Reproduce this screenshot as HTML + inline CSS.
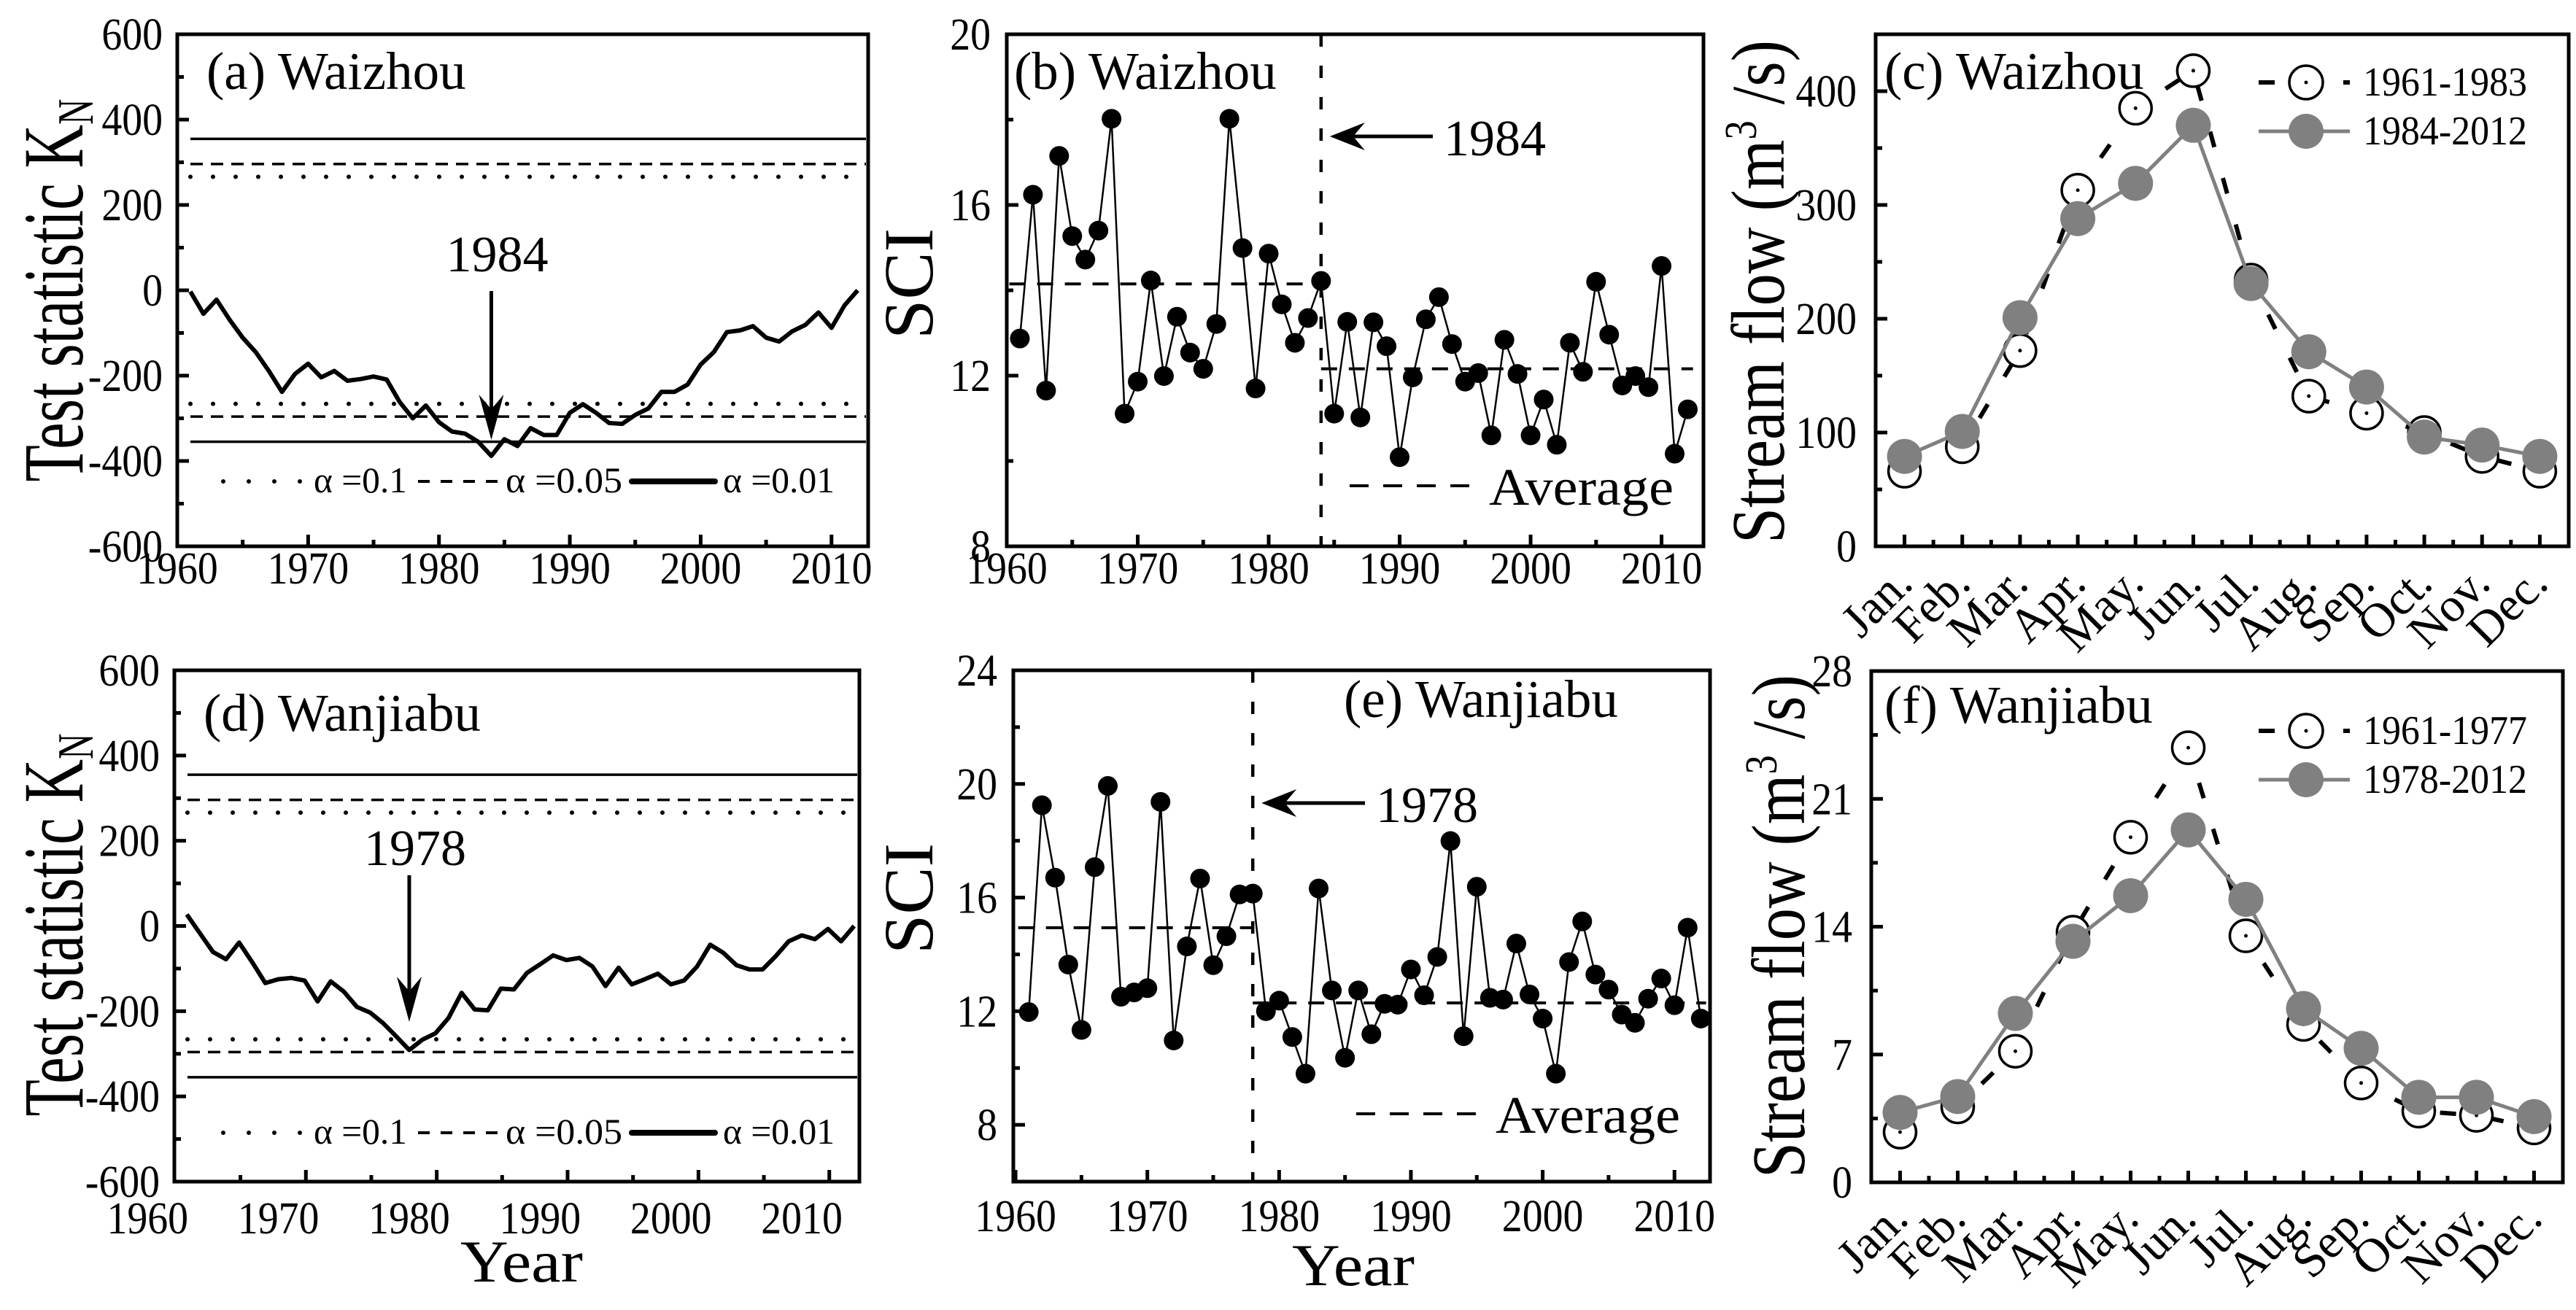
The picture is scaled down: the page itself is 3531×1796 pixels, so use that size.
<!DOCTYPE html>
<html><head><meta charset="utf-8">
<style>
html,body{margin:0;padding:0;background:#fff;}
svg{display:block;}
text{font-family:"Liberation Serif",serif;fill:#000;}
</style></head>
<body>
<svg id="fig" xmlns="http://www.w3.org/2000/svg" width="3531" height="1796" viewBox="0 0 3531 1796">
<rect width="3531" height="1796" fill="#fff"/>
<g id="root"></g>
</svg>
<script>
// ---------- data ----------
const yearsA = Array.from({length:52},(_,i)=>1961+i);
const kA = [-3,-55,-22,-69,-111,-145,-189,-238,-196,-172,-204,-189,-212,-208,-202,-209,-262,-300,-270,-309,-331,-336,-355,-388,-349,-365,-323,-339,-339,-287,-267,-287,-311,-313,-292,-277,-238,-238,-221,-174,-145,-98,-94,-84,-111,-120,-96,-81,-52,-88,-35,0];
const yearsD = Array.from({length:52},(_,i)=>1963+i);
const kD = [27,-17,-61,-78,-39,-85,-134,-125,-122,-128,-177,-130,-154,-190,-203,-228,-259,-291,-267,-252,-216,-157,-196,-198,-147,-149,-110,-90,-69,-80,-75,-95,-141,-98,-137,-125,-112,-137,-128,-95,-44,-63,-92,-102,-102,-71,-36,-22,-31,-7,-36,0];
const critVals = [355,296,266];
const yearsB = Array.from({length:52},(_,i)=>1961+i);
const sciB = [12.87,16.24,11.65,17.15,15.27,14.72,15.40,18.02,11.11,11.86,14.23,11.99,13.38,12.54,12.16,13.21,18.02,14.99,11.70,14.86,13.67,12.77,13.35,14.22,11.11,13.26,11.02,13.25,12.69,10.09,11.96,13.32,13.84,12.74,11.86,12.06,10.60,12.84,12.04,10.60,11.44,10.38,12.77,12.09,14.20,12.96,11.77,11.99,11.73,14.57,10.17,11.21];
const avgB = [14.15,12.16];
const yearsE = Array.from({length:52},(_,i)=>1961+i);
const sciE = [11.97,19.25,16.70,13.64,11.34,17.07,19.93,12.51,12.66,12.81,19.37,10.97,14.28,16.67,13.62,14.64,16.11,16.14,12.0,12.37,11.09,9.80,16.32,12.73,10.36,12.73,11.19,12.26,12.23,13.47,12.56,13.91,17.99,11.12,16.38,12.47,12.41,14.38,12.59,11.74,9.80,13.73,15.16,13.29,12.76,11.88,11.59,12.44,13.15,12.21,14.94,11.74];
const avgE = [14.94,12.29];
const months = ['Jan.','Feb.','Mar.','Apr.','May.','Jun.','Jul.','Aug.','Sep.','Oct.','Nov.','Dec.'];
const flowC1 = [66,87.5,172,313,385,418,234,132,117,100,79,66];
const flowC2 = [79,101,201,288,319,370,231,171,140,96,89,79];
const flowF1 = [2.75,4.13,7.18,13.7,18.9,23.8,13.5,8.65,5.44,3.9,3.67,2.98];
const flowF2 = [3.83,4.7,9.25,13.2,15.7,19.3,15.5,9.52,7.34,4.66,4.66,3.6];
const kTicks = [-600,-400,-200,0,200,400,600];
const yearTicks = [1960,1970,1980,1990,2000,2010];

// ---------- helpers ----------
const NS='http://www.w3.org/2000/svg';
const root=document.getElementById('root');
function mk(tag,attrs,parent){const e=document.createElementNS(NS,tag);for(const k in attrs)e.setAttribute(k,attrs[k]);parent.appendChild(e);return e;}
function T(parent,x,y,str,size,anchor,name,extra){
  const t=mk('text',Object.assign({x:x,y:y,'font-size':size,'text-anchor':anchor||'start'},extra||{}),parent);
  t.textContent=str;
  
  
  return t;
}
function TL(parent,x,y,str,anchor,name){
  return T(parent,0,0,str,62,anchor,name,{transform:`translate(${x},${y}) scale(0.9,1)`});
}
function panel(c,name){
  const g=mk('g',{},root);
  
  
  c.g=g;
  c.fx=v=>c.x0+(v-c.xmin)/(c.xmax-c.xmin)*(c.x1-c.x0);
  c.fy=v=>c.y1-(v-c.ymin)/(c.ymax-c.ymin)*(c.y1-c.y0);
  return c;
}
function frame(c){
  const r=mk('rect',{x:c.x0,y:c.y0,width:c.x1-c.x0,height:c.y1-c.y0,fill:'none',stroke:'#000','stroke-width':5},c.g);
  
  
}
function yTicks(c,majors,minors,labelGap){
  majors.forEach(v=>{
    const y=c.fy(v);
    const tk=mk('line',{x1:c.x0,x2:c.x0+16,y1:y,y2:y,stroke:'#000','stroke-width':5},c.g);
    
    
    TL(c.g,c.x0-labelGap,y+21,String(v),'end','y-tick-label');
  });
  minors.forEach(v=>{
    const y=c.fy(v);
    const tk=mk('line',{x1:c.x0,x2:c.x0+9,y1:y,y2:y,stroke:'#000','stroke-width':5},c.g);
    
    
  });
}
function xTicks(c,labels,tickShift,labelY){
  labels.forEach(v=>{
    TL(c.g,c.fx(v),labelY,String(v),'middle','x-tick-label');
    [0,5].forEach(o=>{
      const x=c.fx(v+o+tickShift);
      if(x<c.x0+3||x>c.x1-3)return;
      const tk=mk('line',{x1:x,x2:x,y1:c.y1,y2:c.y1-(o?9:16),stroke:'#000','stroke-width':5},c.g);
      
      
    });
  });
}
function vTitle(c,x,y,size,len,name,parts){
  const t=mk('text',{x:0,y:0,'font-size':size,'text-anchor':'middle',transform:`translate(${x},${y}) rotate(-90)`,textLength:len,lengthAdjust:'spacingAndGlyphs'},c.g);
  
  
  parts.forEach(p=>{const s=mk('tspan',p.a||{},t);s.textContent=p.s;});
  return t;
}

// ---------- K_N panels ----------
function drawKN(c,years,vals,arrowYear,arrowTop,arrowTip,labelTxt,labelY,title,titleY,legendY,xLabelY){
  frame(c);
  yTicks(c,kTicks,[-500,-300,-100,100,300,500],20);
  xTicks(c,yearTicks,c.tickShift,xLabelY);
  const styles=[{w:3.5,d:''},{w:3.5,d:'17 11'},{w:6,d:'0 31',cap:'round'}];
  critVals.forEach((v,i)=>{
    [v,-v].forEach(val=>{
      const ln=mk('line',{x1:c.x0+18,x2:c.x1-3,y1:c.fy(val),y2:c.fy(val),stroke:'#000','stroke-width':styles[i].w,'stroke-dasharray':styles[i].d,'stroke-linecap':styles[i].cap||'butt'},c.g);
      
      
    });
  });
  const pts=years.map((y,i)=>c.fx(y)+','+c.fy(vals[i])).join(' ');
  const pl=mk('polyline',{points:pts,fill:'none',stroke:'#000','stroke-width':6,'stroke-linejoin':'round'},c.g);
  
  
  const ax=c.fx(arrowYear);
  const ar=mk('line',{x1:ax,x2:ax,y1:arrowTop,y2:arrowTip-30,stroke:'#000','stroke-width':5},c.g);
  
  
  const ah=mk('path',{d:`M${ax},${arrowTip} L${ax-17},${arrowTip-62} L${ax},${arrowTip-42} L${ax+17},${arrowTip-62} Z`,fill:'#000'},c.g);
  
  
  T(c.g,ax+8,labelY,labelTxt,70,'middle','change-year-label');
  T(c.g,c.x0+40,titleY,title,73,'start','panel-title');
  const lg=mk('g',{},c.g);
  
  
  const ly=legendY;
  let l1=mk('line',{x1:306,x2:412,y1:ly,y2:ly,stroke:'#000','stroke-width':6,'stroke-dasharray':'0 35','stroke-linecap':'round'},lg);
  
  
  T(lg,430,ly+15,'α =0.1',50,'start','legend-label-0.1',{textLength:128,lengthAdjust:'spacingAndGlyphs'});
  let l2=mk('line',{x1:573,x2:682,y1:ly,y2:ly,stroke:'#000','stroke-width':4,'stroke-dasharray':'16 15'},lg);
  
  
  T(lg,693,ly+15,'α =0.05',50,'start','legend-label-0.05',{textLength:160,lengthAdjust:'spacingAndGlyphs'});
  let l3=mk('line',{x1:866,x2:980,y1:ly,y2:ly,stroke:'#000','stroke-width':8,'stroke-linecap':'round'},lg);
  
  
  T(lg,991,ly+15,'α =0.01',50,'start','legend-label-0.01',{textLength:153,lengthAdjust:'spacingAndGlyphs'});
}
const A=panel({x0:243,x1:1190,y0:47,y1:749,xmin:1960,xmax:2012.8,ymin:-600,ymax:600,tickShift:0},'panel-a-waizhou-kn');
drawKN(A,yearsA,kA,1984,399,603,'1984',372,'(a) Waizhou',122,660,800);
vTitle(A,113,398,118,525,'y-axis-title',[{s:'Test statistic K'},{s:'N',a:{'font-size':70,dy:14}}]);
const D=panel({x0:239,x1:1178,y0:919,y1:1620,xmin:1962.05,xmax:2014.4,ymin:-600,ymax:600,tickShift:2.1},'panel-d-wanjiabu-kn');
drawKN(D,yearsD,kD,1980,1200,1401,'1978',1186,'(d) Wanjiabu',1002,1553,1691);
vTitle(D,113,1268,118,525,'y-axis-title',[{s:'Test statistic K'},{s:'N',a:{'font-size':70,dy:14}}]);
T(D.g,715,1757,'Year',82,'middle','x-axis-title',{textLength:168,lengthAdjust:'spacingAndGlyphs'});

// ---------- SCI panels ----------
function drawSCI(c,years,vals,avg,changeYear,majors,minors,xLabelY,arrowY,arrowTail,title,titleX,titleY,avgLegY){
  frame(c);
  yTicks(c,majors,minors,22);
  xTicks(c,yearTicks,0,xLabelY);
  const cx=c.fx(changeYear);
  const vl=mk('line',{x1:cx,x2:cx,y1:c.y0,y2:c.y1,stroke:'#000','stroke-width':4.5,'stroke-dasharray':'17 26'},c.g);
  
  
  const a1=mk('line',{x1:c.fx(years[0]-0.8),x2:cx,y1:c.fy(avg[0]),y2:c.fy(avg[0]),stroke:'#000','stroke-width':4,'stroke-dasharray':'22 16'},c.g);
  
  
  const a2=mk('line',{x1:cx,x2:c.fx(years[years.length-1]+0.4),y1:c.fy(avg[1]),y2:c.fy(avg[1]),stroke:'#000','stroke-width':4,'stroke-dasharray':'22 16'},c.g);
  
  
  const pts=years.map((y,i)=>c.fx(y)+','+c.fy(vals[i])).join(' ');
  const pl=mk('polyline',{points:pts,fill:'none',stroke:'#000','stroke-width':2.5},c.g);
  
  
  years.forEach((y,i)=>{
    const m=mk('circle',{cx:c.fx(y),cy:c.fy(vals[i]),r:13.5,fill:'#000'},c.g);
    
    
  });
  const ar=mk('line',{x1:arrowTail,x2:cx+40,y1:arrowY,y2:arrowY,stroke:'#000','stroke-width':5},c.g);
  
  
  const tip=cx+12;
  const ah=mk('path',{d:`M${tip},${arrowY} L${tip+48},${arrowY-19} L${tip+32},${arrowY} L${tip+48},${arrowY+19} Z`,fill:'#000'},c.g);
  
  
  T(c.g,arrowTail+15,arrowY+26,String(changeYear),70,'start','change-year-label');
  T(c.g,titleX,titleY,title,73,'start','panel-title');
  const ld=mk('line',{x1:c.x1-485,x2:c.x1-318,y1:avgLegY,y2:avgLegY,stroke:'#000','stroke-width':4,'stroke-dasharray':'26 20'},c.g);
  
  
  T(c.g,c.x1-294,avgLegY+26,'Average',72,'start','average-legend-label',{textLength:253,lengthAdjust:'spacingAndGlyphs'});
}
const B=panel({x0:1380,x1:2335,y0:47,y1:749,xmin:1960,xmax:2013.2,ymin:8,ymax:20},'panel-b-waizhou-sci');
drawSCI(B,yearsB,sciB,avgB,1984,[8,12,16,20],[10,14,18],800,187,1964,'(b) Waizhou',1390,122,666);
vTitle(B,1278,389,96,152,'y-axis-title',[{s:'SCI'}]);
const E=panel({x0:1389,x1:2344,y0:919,y1:1620,xmin:1959.83,xmax:2012.7,ymin:6,ymax:24},'panel-e-wanjiabu-sci');
drawSCI(E,yearsE,sciE,avgE,1978,[8,12,16,20,24],[10,14,18,22],1688,1101,1871,'(e) Wanjiabu',1842,983,1527);
vTitle(E,1278,1232,96,152,'y-axis-title',[{s:'SCI'}]);
T(E.g,1855,1762,'Year',82,'middle','x-axis-title',{textLength:168,lengthAdjust:'spacingAndGlyphs'});

// ---------- Streamflow panels ----------
function drawFlow(c,v1,v2,majors,minors,labY,title,titleY,leg1,leg2,legY){
  frame(c);
  yTicks(c,majors,minors,26);
  months.forEach((m,i)=>{
    const x=c.fx(i+1);
    const tk=mk('line',{x1:x,x2:x,y1:c.y1,y2:c.y1-16,stroke:'#000','stroke-width':5},c.g);
    
    
    if(i<11){
      const mx=c.fx(i+1.5);
      const mt=mk('line',{x1:mx,x2:mx,y1:c.y1,y2:c.y1-9,stroke:'#000','stroke-width':5},c.g);
      
      
    }
    T(c.g,0,0,m,66,'end','month-label',{transform:`translate(${x+14},${labY}) rotate(-45)`});
  });
  const p1=v1.map((v,i)=>c.fx(i+1)+','+c.fy(v)).join(' ');
  const l1=mk('polyline',{points:p1,fill:'none',stroke:'#000','stroke-width':6,'stroke-dasharray':'22 44'},c.g);
  
  
  v1.forEach((v,i)=>{
    const o=mk('circle',{cx:c.fx(i+1),cy:c.fy(v),r:22,fill:'#fff',stroke:'#000','stroke-width':3.5},c.g);
    
    
    const d=mk('circle',{cx:c.fx(i+1),cy:c.fy(v),r:2.5,fill:'#000'},c.g);
    
    
  });
  const p2=v2.map((v,i)=>c.fx(i+1)+','+c.fy(v)).join(' ');
  const l2=mk('polyline',{points:p2,fill:'none',stroke:'#808080','stroke-width':5},c.g);
  
  
  v2.forEach((v,i)=>{
    const o=mk('circle',{cx:c.fx(i+1),cy:c.fy(v),r:24,fill:'#808080'},c.g);
    
    
  });
  T(c.g,2583,titleY,title,73,'start','panel-title');
  const lg=mk('g',{},c.g);
  
  
  const y1=legY, y2=legY+67;
  const d1=mk('line',{x1:3096,x2:3118,y1:y1,y2:y1,stroke:'#000','stroke-width':6},lg);
  
  
  const d2=mk('line',{x1:3212,x2:3221,y1:y1,y2:y1,stroke:'#000','stroke-width':6},lg);
  
  
  const oc=mk('circle',{cx:3161,cy:y1,r:23,fill:'#fff',stroke:'#000','stroke-width':3.5},lg);
  
  
  const od=mk('circle',{cx:3161,cy:y1,r:2.5,fill:'#000'},lg);
  
  
  T(lg,3239,y1+18,leg1,56,'start','legend-label-early',{textLength:225,lengthAdjust:'spacingAndGlyphs'});
  const gl=mk('line',{x1:3096,x2:3221,y1:y2,y2:y2,stroke:'#808080','stroke-width':5},lg);
  
  
  const gc=mk('circle',{cx:3161,cy:y2,r:24,fill:'#808080'},lg);
  
  
  T(lg,3239,y2+18,leg2,56,'start','legend-label-late',{textLength:225,lengthAdjust:'spacingAndGlyphs'});
}
const C=panel({x0:2571,x1:3521,y0:47,y1:749,xmin:0.5,xmax:12.5,ymin:0,ymax:450},'panel-c-waizhou-flow');
drawFlow(C,flowC1,flowC2,[0,100,200,300,400],[50,150,250,350,450],803,'(c) Waizhou',122,'1961-1983','1984-2012',113);
vTitle(C,2445,400,104,690,'y-axis-title',[{s:'Stream flow (m'},{s:'3',a:{'font-size':62,dy:-38}},{s:' /s)',a:{dy:38}}]);
const F=panel({x0:2565,x1:3513,y0:920,y1:1621,xmin:0.5,xmax:12.5,ymin:0,ymax:28},'panel-f-wanjiabu-flow');
drawFlow(F,flowF1,flowF2,[0,7,14,21,28],[3.5,10.5,17.5,24.5],1674,'(f) Wanjiabu',991,'1961-1977','1978-2012',1002);
vTitle(F,2473,1270,104,690,'y-axis-title',[{s:'Stream flow (m'},{s:'3',a:{'font-size':62,dy:-38}},{s:' /s)',a:{dy:38}}]);
</script>
</body></html>
